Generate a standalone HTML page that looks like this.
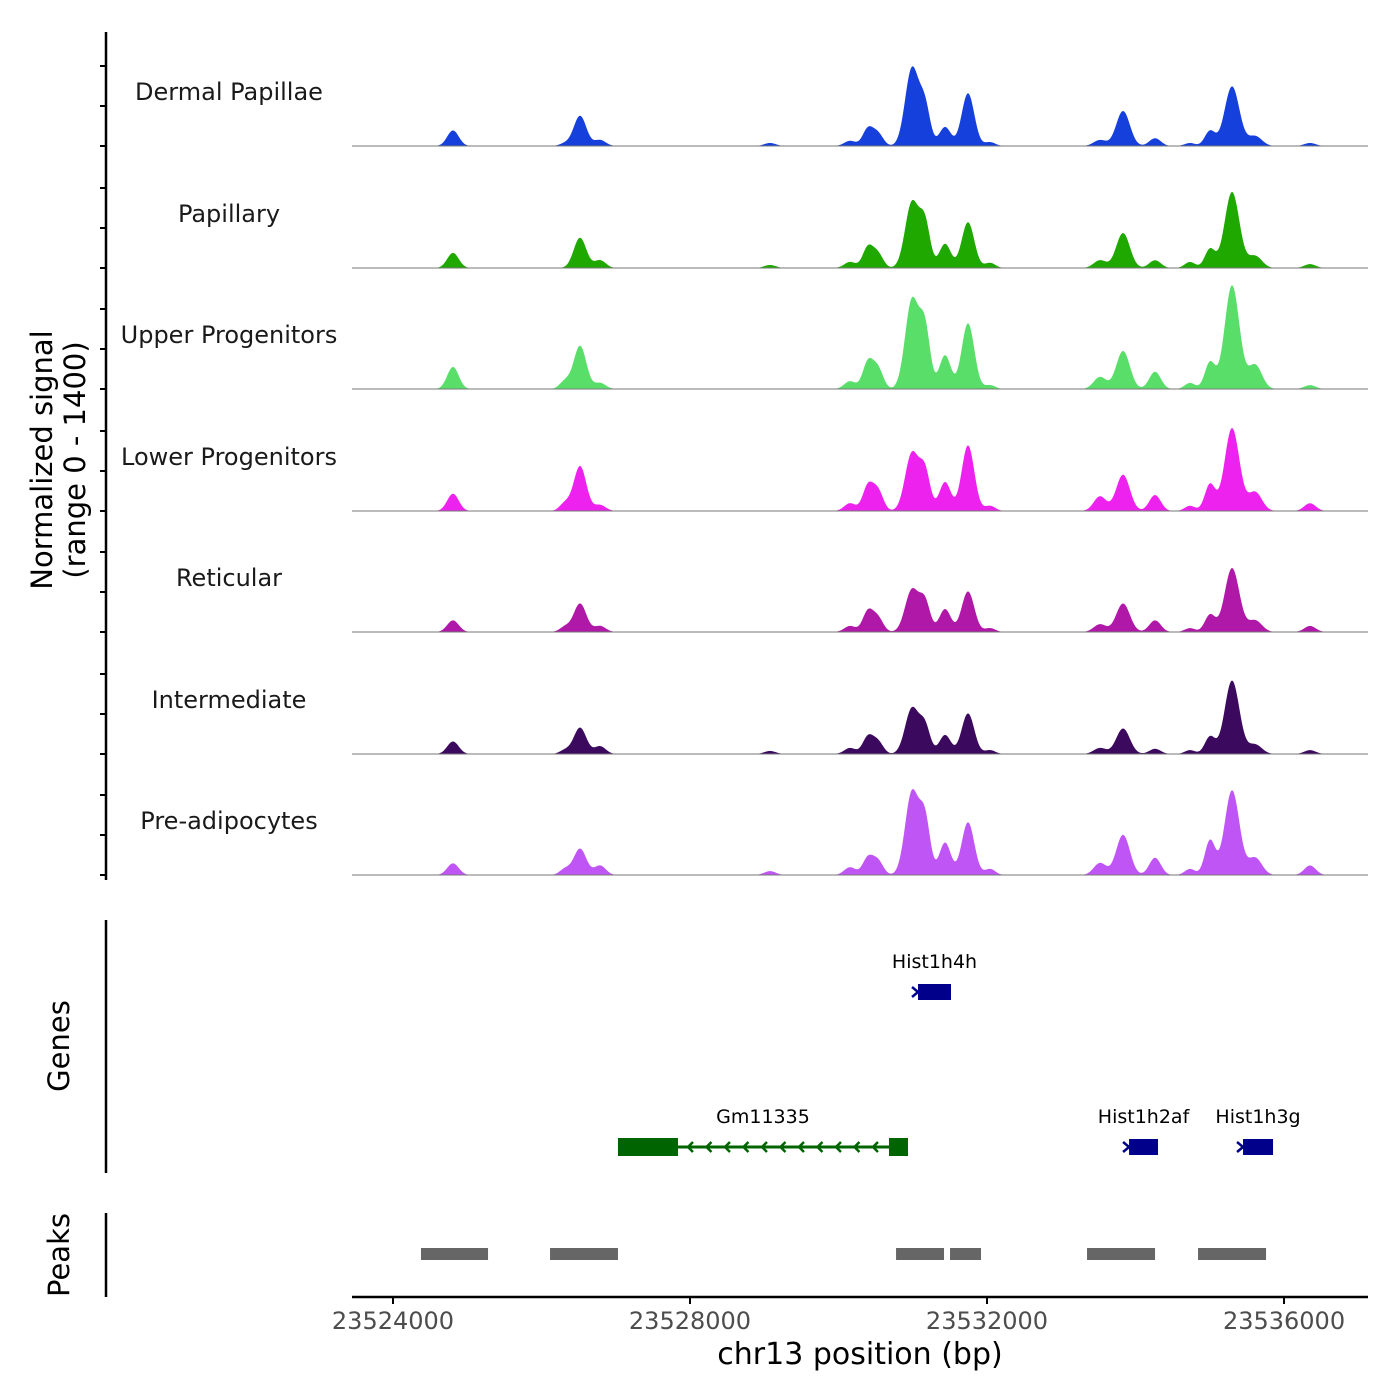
<!DOCTYPE html>
<html><head><meta charset="utf-8"><style>
html,body{margin:0;padding:0;background:#fff;}
svg{display:block;font-family:"DejaVu Sans","Liberation Sans",sans-serif;}
</style></head><body>
<svg id="chart" width="1400" height="1400" viewBox="0 0 1400 1400">
<rect width="1400" height="1400" fill="#fff"/>
<g id="tracks"></g>
<g id="yaxis"></g>
<text x="0" y="0" transform="translate(52,460) rotate(-90)" text-anchor="middle" font-size="29" fill="#000">Normalized signal</text>
<text x="0" y="0" transform="translate(85,460) rotate(-90)" text-anchor="middle" font-size="29" fill="#000">(range 0 - 1400)</text>
<line x1="106" y1="920" x2="106" y2="1173" stroke="#000" stroke-width="2.5"/>
<text transform="translate(69,1046) rotate(-90)" text-anchor="middle" font-size="29">Genes</text>
<line x1="106" y1="1213" x2="106" y2="1297" stroke="#000" stroke-width="2.5"/>
<text transform="translate(69,1255) rotate(-90)" text-anchor="middle" font-size="29">Peaks</text>
<g id="genes"></g>
<g id="peaks"></g>
<g id="xaxis"></g>
<text x="860" y="1364" text-anchor="middle" font-size="30" fill="#000">chr13 position (bp)</text>
</svg>
<script>
// ---- data ----
const trackNames = ["Dermal Papillae","Papillary","Upper Progenitors","Lower Progenitors","Reticular","Intermediate","Pre-adipocytes"];
const trackColors = ["#1640dc","#1ea800","#5ade6a","#ee22ee","#b018a8","#3b0a5e","#c055f5"];
const peakPos = [23524808,23526317,23526519,23526788,23529078,23530155,23530397,23530532,23530990,23531165,23531435,23531744,23532041,23533522,23533832,23534263,23534734,23535004,23535300,23535610,23536350];
const peakWidth = [110,100,120,110,110,110,100,100,130,100,110,120,100,120,130,110,100,100,140,130,110];
const sigDermal = [180,30,350,70,35,60,200,140,900,440,220,610,45,70,405,90,35,175,690,115,35];
const sigPapillary = [175,0,350,90,35,70,240,160,760,500,280,530,60,90,405,90,70,220,880,140,45];
const sigUpper = [255,90,500,70,0,90,310,230,1030,670,390,760,45,140,440,200,70,310,1200,280,45];
const sigLower = [200,90,520,70,0,90,290,230,670,440,335,760,60,170,420,185,60,310,960,220,90];
const sigReticular = [135,60,330,70,0,70,240,160,490,335,265,470,45,90,330,135,45,200,740,135,70];
const sigIntermediate = [145,45,305,90,35,70,200,140,530,310,220,470,45,70,295,60,45,200,850,110,45];
const sigPreadipo = [135,70,305,110,45,90,200,160,960,620,375,610,70,140,465,200,70,400,980,200,110];
const trackSignals = [sigDermal,sigPapillary,sigUpper,sigLower,sigReticular,sigIntermediate,sigPreadipo];
const xTicks = [23524000,23528000,23532000,23536000];
const geneNames = ["Hist1h4h","Gm11335","Hist1h2af","Hist1h3g"];
const geneStart = [23531071,23527030,23533913,23535448];
const geneEnd = [23531515,23530936,23534303,23535852];
const geneRow = [0,1,1,1];
const peakStart = [23524377,23526115,23530775,23531502,23533347,23534842];
const peakEnd = [23525280,23527030,23531421,23531919,23534263,23535758];

// ---- scales ----
const X0=352,X1=1368,BP0=23523448,BP1=23537131;
const x = bp => X0 + (bp-BP0)/(BP1-BP0)*(X1-X0);
const baselines=[146,268,389,511,632,754,875];
const TH=121;
const y = (i,v) => baselines[i] - v/1400*TH;
const NS="http://www.w3.org/2000/svg";
function mk(tag,attrs,parent){const e=document.createElementNS(NS,tag);for(const k in attrs)e.setAttribute(k,attrs[k]);parent.appendChild(e);return e;}

const tracks=document.getElementById('tracks');
trackSignals.forEach((sig,i)=>{
  let d=`M${X0},${baselines[i]}`;
  for(let px=X0;px<=X1;px+=1){
    const bp=BP0+(px-X0)/(X1-X0)*(BP1-BP0);
    let v=0;
    for(let k=0;k<peakPos.length;k++){const t=(bp-peakPos[k])/peakWidth[k];v+=sig[k]*Math.exp(-t*t);}
    d+=` L${px},${y(i,Math.min(v,1400)).toFixed(2)}`;
  }
  d+=` L${X1},${baselines[i]} Z`;
  const p=mk('path',{d:d,fill:trackColors[i]},tracks);
  
  
  const bl=mk('line',{x1:X0,x2:X1,y1:baselines[i],y2:baselines[i],stroke:'#777','stroke-width':1},tracks);
  
  
  const t=mk('text',{x:229,y:baselines[i]-46,'text-anchor':'middle','font-size':24,fill:'#1a1a1a'},tracks);
  t.textContent=trackNames[i];
  
  
});

const ya=document.getElementById('yaxis');
mk('line',{x1:106,x2:106,y1:32,y2:880,stroke:'#000','stroke-width':2.5},ya);
baselines.forEach(b=>{[0,40,80].forEach(o=>{
  const tk=mk('line',{x1:100,x2:106,y1:b-o,y2:b-o,stroke:'#000','stroke-width':2},ya);
  
  
});});

const xa=document.getElementById('xaxis');
mk('line',{x1:X0,x2:X1,y1:1297,y2:1297,stroke:'#000','stroke-width':2.5},xa);
xTicks.forEach(v=>{
  const tk=mk('line',{x1:x(v),x2:x(v),y1:1297,y2:1304,stroke:'#000','stroke-width':2},xa);
  
  
  const t=mk('text',{x:x(v),y:1329,'text-anchor':'middle','font-size':24,fill:'#4d4d4d'},xa);
  t.textContent=String(v);
  
  
});

const gg=document.getElementById('genes');
const rowY=[992,1147];
geneNames.forEach((n,i)=>{
  const cy=rowY[geneRow[i]];
  const x0=x(geneStart[i]),x1=x(geneEnd[i]);
  const t=mk('text',{x:(x0+x1)/2,y:cy-24,'text-anchor':'middle','font-size':19,fill:'#000'},gg);
  t.textContent=n;
  
  
  if(n==="Gm11335"){
    const c='#006400';
    mk('line',{x1:x0,x2:x1,y1:cy,y2:cy,stroke:c,'stroke-width':3},gg);
    const r1=mk('rect',{x:x0,y:cy-9,width:60,height:18,fill:c},gg);
    
    
    const r2=mk('rect',{x:x1-19,y:cy-9,width:19,height:18,fill:c},gg);
    
    
    for(let ax=x0+70;ax<x1-25;ax+=18.5){
      mk('path',{d:`M${ax+5},${cy-5} L${ax},${cy} L${ax+5},${cy+5}`,stroke:c,'stroke-width':2.5,fill:'none'},gg);
    }
  } else {
    const c='#00008b';
    const r=mk('rect',{x:x0,y:cy-8,width:x1-x0,height:16,fill:c},gg);
    
    
    mk('path',{d:`M${x0-6},${cy-5} L${x0},${cy} L${x0-6},${cy+5}`,stroke:c,'stroke-width':2.5,fill:'none'},gg);
  }
});

const pg=document.getElementById('peaks');
peakStart.forEach((s,i)=>{
  const r=mk('rect',{x:x(s),y:1248,width:x(peakEnd[i])-x(s),height:12,fill:'#666'},pg);
  
  
});
</script>
</body></html>
